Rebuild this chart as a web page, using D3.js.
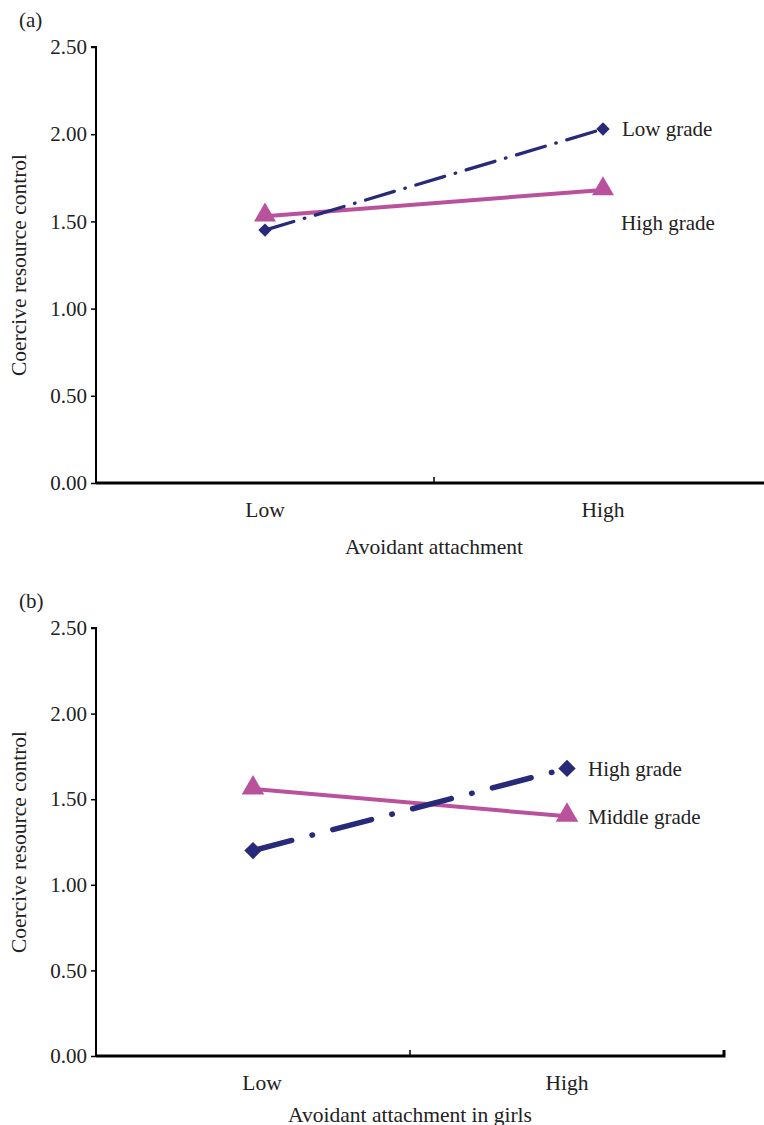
<!DOCTYPE html>
<html><head><meta charset="utf-8">
<script src="https://cdn.jsdelivr.net/npm/d3@7"></script>
<style>body{margin:0;background:#fff}svg{display:block}text{font-family:"Liberation Serif","Times New Roman",serif;fill:#222}</style>
</head><body><div id="c"></div>
<script>
const categories = ["Low", "High"];
const yTicks = [0, 0.5, 1.0, 1.5, 2.0, 2.5];
// Panel (a)
const aSeriesNames = ["Low grade", "High grade"];
const aLowGrade = [1.45, 2.03];
const aHighGrade = [1.53, 1.68];
// Panel (b)
const bSeriesNames = ["High grade", "Middle grade"];
const bHighGrade = [1.20, 1.68];
const bMiddleGrade = [1.56, 1.40];

const navy = "#272a78", pink = "#b9519d";
const svg = d3.select("#c").append("svg").attr("width", 764).attr("height", 1125);

function panel(o) {
  const g = svg.append("g");
  const x = d3.scaleBand().domain(categories).range([o.x0, o.x1]);
  const y = d3.scaleLinear().domain([0, 2.5]).range([o.yb, o.yt]);
  // y axis
  const ya = g.append("g").attr("transform", `translate(${o.x0},0)`)
    .call(d3.axisLeft(y).tickValues(yTicks).tickFormat(d3.format(".2f")).tickSize(5).tickPadding(4));
  ya.select(".domain").attr("stroke", "#000").attr("stroke-width", 2).attr("d", `M-5,${o.yt}H0V${o.yb}`);
  ya.selectAll(".tick line").attr("stroke", "#000").attr("stroke-width", 1.5);
  ya.selectAll(".tick text").style("font-size", "21px").attr("fill", "#222");
  // x axis
  const xa = g.append("g").attr("transform", `translate(0,${o.yb})`)
    .call(d3.axisBottom(x).tickSize(0).tickPadding(19));
  xa.select(".domain").attr("stroke", "#000").attr("stroke-width", 3)
    .attr("d", o.endTick ? `M${o.x0},0H${o.x1}V-6` : `M${o.x0},0H${o.x1}`);
  xa.selectAll(".tick text").style("font-size", "21.5px").attr("fill", "#222")
    .attr("dx", (d, i) => o.labelShift[i]);
  const mid = (o.x0 + o.x1) / 2;
  xa.append("line").attr("x1", mid).attr("x2", mid).attr("y1", 0).attr("y2", -6).attr("stroke", "#000").attr("stroke-width", 1.5);
  // titles
  g.append("text").attr("x", 19).attr("y", o.yt - 20).style("font-size", "21px").text(o.tag);
  g.append("text").attr("transform", `translate(26,${(o.yt + o.yb) / 2}) rotate(-90)`)
    .attr("text-anchor", "middle").style("font-size", "21.5px").text("Coercive resource control");
  g.append("text").attr("x", mid).attr("y", o.yb + o.titleOff).attr("text-anchor", "middle").style("font-size", "21.5px").text(o.xTitle);

  const line = d3.line().x((d, i) => x(categories[i]) + x.bandwidth() / 2).y(d => y(d));
  // pink solid series
  g.append("path").datum(o.pinkVals).attr("d", line).attr("fill", "none").attr("stroke", pink).attr("stroke-width", o.pinkW);
  // navy dash-dot
  g.append("path").datum(o.navyVals).attr("d", line).attr("fill", "none").attr("stroke", navy)
    .attr("stroke-width", o.navyW).attr("stroke-dasharray", o.dash).attr("stroke-linecap", "round");
  const tri = d3.symbol().type(d3.symbolTriangle).size(o.triSize);
  const dia = d3.symbol().type(d3.symbolSquare).size(o.diaSize);
  o.pinkVals.forEach((v, i) => {
    g.append("path").attr("d", tri).attr("fill", pink)
      .attr("transform", `translate(${x(categories[i]) + x.bandwidth() / 2},${y(v) - 1})`);
  });
  o.navyVals.forEach((v, i) => {
    g.append("path").attr("d", dia).attr("fill", navy)
      .attr("transform", `translate(${x(categories[i]) + x.bandwidth() / 2},${y(v)}) rotate(45)`);
  });
  o.labels.forEach(l => {
    g.append("text").attr("x", l.x).attr("y", y(l.v)).attr("dy", "0.35em").style("font-size", "21px").text(l.t);
  });
}

panel({x0: 96, x1: 772, yb: 483, yt: 47, endTick: false, tag: "(a)", xTitle: "Avoidant attachment", titleOff: 71,
  labelShift: [0, 0],
  navyVals: aLowGrade, pinkVals: aHighGrade, navyW: 3.3, pinkW: 4, dash: "30,11,0.5,11",
  triSize: 210, diaSize: 90,
  labels: [{x: 622, v: aLowGrade[1], t: aSeriesNames[0]}, {x: 621, v: aHighGrade[1] - 0.19, t: aSeriesNames[1]}]});

panel({x0: 96, x1: 724, yb: 1056, yt: 628, endTick: true, tag: "(b)", xTitle: "Avoidant attachment in girls", titleOff: 66,
  labelShift: [9, 0],
  navyVals: bHighGrade, pinkVals: bMiddleGrade, navyW: 5.5, pinkW: 4, dash: "40,21,0.5,21",
  triSize: 220, diaSize: 150,
  labels: [{x: 588, v: bHighGrade[1], t: bSeriesNames[0]}, {x: 588, v: bMiddleGrade[1], t: bSeriesNames[1]}]});
</script>
</body></html>
